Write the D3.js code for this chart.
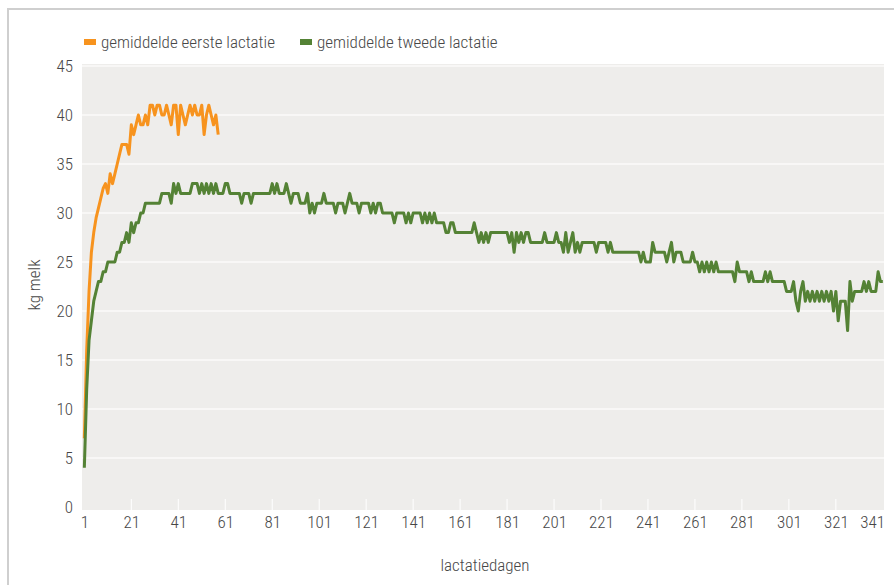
<!DOCTYPE html>
<html>
<head>
<meta charset="utf-8">
<script src="https://cdn.jsdelivr.net/npm/d3@7"></script>
<style>
  html, body { margin: 0; padding: 0; background: #fff; }
  svg text { font-family: "Liberation Sans Narrow", "Roboto Condensed", "Arial Narrow", "Liberation Sans", sans-serif; fill: #474747; font-weight: 300; }
</style>
</head>
<body>
<div id="chart"></div>
<script>
// tick labels on the x axis (lactation days)
var xTicks = [1, 21, 41, 61, 81, 101, 121, 141, 161, 181, 201, 221, 241, 261, 281, 301, 321, 341];
var yTicks = [0, 5, 10, 15, 20, 25, 30, 35, 40, 45];

var seriesNames = ["gemiddelde eerste lactatie", "gemiddelde tweede lactatie"];
var seriesColors = ["#f7931e", "#548235"];

// average kg milk per day, first lactation (day 1..58)
var eersteLactatie = [
  7, 16, 22, 26, 28, 29.5, 30.5, 31.5, 32.5, 33,
  32, 34, 33, 34, 35, 36, 37, 37, 37, 36,
  39, 38, 39, 40, 39, 39, 40, 39, 41, 41,
  40, 41, 41, 40, 40, 41, 40, 39, 41, 41,
  38, 41, 40, 39, 40, 41, 40, 41, 40, 40,
  41, 38, 40, 41, 40, 39, 40, 38
];

// average kg milk per day, second lactation (day 1..341)
var tweedeLactatie = [
  4, 12, 17, 19, 21, 22, 23, 23, 24, 24,
  25, 25, 25, 25, 26, 26, 27, 27, 28, 27,
  29, 28, 29, 29, 30, 30, 31, 31, 31, 31,
  31, 31, 31, 32, 32, 32, 32, 31, 33, 32,
  33, 32, 32, 32, 32, 32, 33, 33, 33, 32,
  33, 32, 33, 32, 33, 32, 33, 32, 32, 32,
  33, 33, 32, 32, 32, 32, 32, 31, 32, 32,
  32, 31, 32, 32, 32, 32, 32, 32, 32, 32,
  33, 32, 33, 32, 32, 32, 33, 32, 31, 32,
  32, 32, 31, 31, 31, 32, 30, 31, 30, 31,
  31, 31, 32, 31, 31, 31, 31, 30, 31, 31,
  31, 30, 31, 32, 31, 31, 31, 30, 31, 31,
  31, 31, 30, 31, 30, 31, 31, 30, 30, 30,
  30, 30, 29, 30, 30, 30, 30, 29, 30, 29,
  30, 30, 30, 30, 29, 30, 29, 30, 29, 30,
  29, 29, 29, 29, 28, 28, 29, 29, 28, 28,
  28, 28, 28, 28, 28, 28, 29, 28, 27, 28,
  27, 28, 27, 28, 28, 28, 28, 28, 28, 28,
  28, 27, 28, 26, 28, 27, 28, 27, 28, 28,
  27, 27, 27, 27, 27, 27, 28, 27, 27, 27,
  27, 28, 27, 27, 26, 28, 26, 27, 28, 26,
  27, 26, 27, 27, 27, 27, 27, 27, 26, 27,
  27, 27, 27, 26, 27, 26, 26, 26, 26, 26,
  26, 26, 26, 26, 26, 26, 26, 25, 26, 25,
  25, 25, 27, 26, 26, 26, 26, 26, 25, 26,
  27, 25, 26, 26, 26, 25, 25, 25, 25, 26,
  25, 25, 24, 25, 24, 25, 24, 25, 24, 25,
  24, 24, 24, 24, 24, 24, 24, 23, 25, 24,
  24, 24, 24, 23, 24, 23, 23, 23, 23, 23,
  24, 23, 24, 23, 23, 23, 23, 23, 23, 22,
  22, 22, 23, 21, 20, 22, 23, 21, 22, 21,
  22, 21, 22, 21, 22, 21, 22, 21, 22, 20,
  22, 19, 21, 21, 21, 18, 23, 21, 22, 22,
  22, 22, 23, 22, 23, 22, 22, 22, 24, 23,
  23
];

var width = 894, height = 585;
var plot = { left: 82, right: 884, top: 64, bottom: 510 };

var svg = d3.select("#chart").append("svg")
  .attr("width", width)
  .attr("height", height);

// outer frame
svg.append("path")
  .attr("d", "M8," + height + " V9 H" + width)
  .attr("fill", "none")
  .attr("stroke", "#cfcfcf")
  .attr("stroke-width", 2);

var x = d3.scaleLinear().domain([0, 341.5]).range([plot.left, plot.right]);
var y = d3.scaleLinear().domain([0, 45]).range([507, 66]);

svg.append("rect")
  .attr("x", plot.left)
  .attr("y", plot.top)
  .attr("width", plot.right - plot.left)
  .attr("height", plot.bottom - plot.top)
  .attr("fill", "#eeedeb");

// horizontal grid
svg.append("g")
  .selectAll("line")
  .data(yTicks.filter(function(d) { return d > 0; }))
  .enter().append("line")
  .attr("x1", plot.left).attr("x2", plot.right)
  .attr("y1", function(d) { return y(d); })
  .attr("y2", function(d) { return y(d); })
  .attr("stroke", "#f8f7f6")
  .attr("stroke-width", 2);

// small white tick marks at the bottom
svg.append("g")
  .selectAll("line")
  .data(xTicks.slice(1, -1))
  .enter().append("line")
  .attr("x1", function(d) { return x(d); })
  .attr("x2", function(d) { return x(d); })
  .attr("y1", plot.bottom - 11).attr("y2", plot.bottom)
  .attr("stroke", "#ffffff")
  .attr("stroke-width", 1);

// y axis labels
var yAxis = svg.append("g")
  .attr("transform", "translate(73,0)")
  .call(d3.axisLeft(y).tickValues(yTicks).tickSize(0).tickPadding(0));
yAxis.select(".domain").remove();
yAxis.selectAll("text").style("font-size", "17px").attr("fill", "#474747");

// x axis labels
var xAxis = svg.append("g")
  .attr("transform", "translate(0," + 516 + ")")
  .call(d3.axisBottom(x).tickValues(xTicks).tickSize(0).tickPadding(0).tickFormat(d3.format("d")));
xAxis.select(".domain").remove();
xAxis.selectAll("text").style("font-size", "17px").attr("fill", "#474747")
  .attr("text-anchor", function(d) { return d === 341 ? "end" : "middle"; })
  .attr("dx", function(d) { return d === 341 ? "0.1em" : 0; });

svg.append("text")
  .attr("transform", "translate(34,285) rotate(-90)")
  .attr("text-anchor", "middle")
  .attr("dy", "0.35em")
  .style("font-size", "17px")
  .text("kg melk");

svg.append("text")
  .attr("x", 485).attr("y", 565)
  .attr("text-anchor", "middle")
  .attr("dy", "0.35em")
  .style("font-size", "17px")
  .text("lactatiedagen");

var line = d3.line()
  .x(function(d, i) { return x(i + 1); })
  .y(function(d) { return y(d); });

[eersteLactatie, tweedeLactatie].forEach(function(s, i) {
  svg.append("path")
    .datum(s)
    .attr("d", line)
    .attr("fill", "none")
    .attr("stroke", seriesColors[i])
    .attr("stroke-width", 3)
    .attr("stroke-linejoin", "round");
});

// legend
var legendX = [84, 300];
var legend = svg.append("g");
seriesNames.forEach(function(name, i) {
  legend.append("rect")
    .attr("x", legendX[i]).attr("y", 39)
    .attr("width", 12).attr("height", 6)
    .attr("fill", seriesColors[i]);
  legend.append("text")
    .attr("x", legendX[i] + 17).attr("y", 42)
    .attr("dy", "0.35em")
    .style("font-size", "17px")
    .text(name);
});
</script>
</body>
</html>
